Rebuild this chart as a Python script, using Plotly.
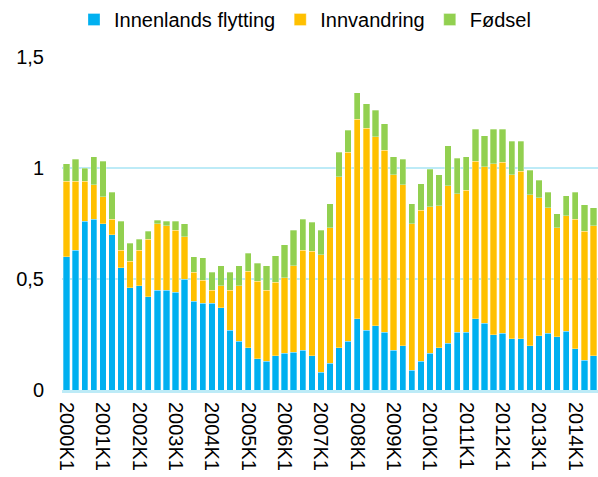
import plotly.graph_objects as go

quarters = [f"{y}K{q}" for y in range(2000, 2015) for q in range(1, 5)][:59]

innenlands = [0.60, 0.63, 0.76, 0.77, 0.75, 0.70, 0.55, 0.46, 0.47, 0.42,
              0.45, 0.45, 0.44, 0.50, 0.40, 0.39, 0.39, 0.37, 0.27, 0.22,
              0.19, 0.14, 0.13, 0.155, 0.165, 0.17, 0.18, 0.155, 0.08, 0.12,
              0.19, 0.22, 0.32, 0.27, 0.29, 0.26, 0.18, 0.20, 0.09, 0.13,
              0.165, 0.19, 0.21, 0.26, 0.26, 0.32, 0.30, 0.25, 0.255, 0.23,
              0.23, 0.20, 0.245, 0.255, 0.24, 0.265, 0.185, 0.135, 0.155]
innvandring = [0.34, 0.31, 0.18, 0.155, 0.12, 0.07, 0.08, 0.12, 0.16, 0.26,
               0.30, 0.29, 0.28, 0.19, 0.13, 0.105, 0.06, 0.10, 0.18, 0.25,
               0.345, 0.35, 0.32, 0.33, 0.34, 0.39, 0.45, 0.47, 0.53, 0.61,
               0.77, 0.85, 0.90, 0.91, 0.85, 0.82, 0.79, 0.725, 0.66, 0.68,
               0.66, 0.64, 0.71, 0.625, 0.64, 0.71, 0.705, 0.77, 0.77, 0.74,
               0.755, 0.68, 0.62, 0.565, 0.49, 0.52, 0.585, 0.58, 0.585]
fodsel = [0.08, 0.10, 0.06, 0.125, 0.16, 0.12, 0.13, 0.08, 0.05, 0.035,
          0.015, 0.02, 0.04, 0.06, 0.07, 0.10, 0.08, 0.09, 0.08, 0.09,
          0.08, 0.08, 0.11, 0.12, 0.15, 0.16, 0.14, 0.13, 0.11, 0.11,
          0.11, 0.10, 0.12, 0.11, 0.12, 0.12, 0.08, 0.115, 0.09, 0.12,
          0.17, 0.14, 0.18, 0.16, 0.15, 0.145, 0.14, 0.155, 0.15, 0.15,
          0.135, 0.11, 0.08, 0.07, 0.065, 0.09, 0.12, 0.12, 0.08]

tick_labels = [q for q in quarters if q.endswith("K1")]
y_ticks = [0, 0.5, 1, 1.5]
y_tick_text = ["0", "0,5", "1", "1,5"]

series = [("Innenlands flytting", innenlands, "#00B0F0"),
          ("Innvandring", innvandring, "#FFC000"),
          ("Fødsel", fodsel, "#92D050")]

fig = go.Figure()
for name, vals, col in series:
    fig.add_trace(go.Bar(x=quarters, y=vals, name=name,
                         marker=dict(color=col, line=dict(color="rgba(255,255,255,0.6)", width=0.5))))

fig.update_layout(
    barmode="stack",
    bargap=0.3,
    width=598, height=477,
    margin=dict(l=62, r=0, t=57, b=87, autoexpand=False),
    paper_bgcolor="white", plot_bgcolor="white",
    font=dict(family="Liberation Sans", size=20, color="black"),
    legend=dict(orientation="h", x=0.51, xanchor="center", y=1.0, yanchor="top",
                yref="container", xref="container", font=dict(size=20), itemwidth=30,
                traceorder="normal", tracegroupgap=0, bgcolor="rgba(0,0,0,0)"),
    xaxis=dict(type="category", tickmode="array", tickvals=tick_labels, ticktext=tick_labels,
               tickangle=90, showgrid=False, showline=True, linecolor="#BDEBF7", linewidth=3,
               ticks="", tickfont=dict(size=20), automargin=False, ticklabelstandoff=5),
    yaxis=dict(range=[0, 1.5], tickvals=y_ticks, ticktext=y_tick_text,
               showgrid=True, gridcolor="#BDEBF7", gridwidth=2, zeroline=False,
               showline=False, ticklabelstandoff=17, tickfont=dict(size=20), automargin=False),
)
fig.write_html("out.html", config={"displayModeBar": False},
               post_script="document.body.style.margin='0';document.body.style.overflow='hidden';")
